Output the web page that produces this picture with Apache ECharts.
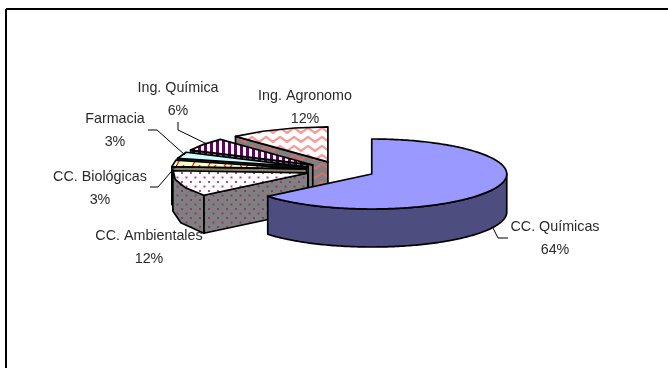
<!DOCTYPE html>
<html>
<head>
<meta charset="utf-8">
<style>html,body{margin:0;padding:0;background:#fff}#chart{width:668px;height:368px}</style>
<script src="https://cdn.jsdelivr.net/npm/echarts@6/dist/echarts.min.js"></script>
</head>
<body>
<div id="chart"></div>
<script>
// Careers and their share of the total, clockwise from twelve o'clock.
const categories = ['CC. Químicas', 'CC. Ambientales', 'CC. Biológicas', 'Farmacia', 'Ing. Química', 'Ing. Agronomo'];
const shares = [64, 12, 3, 3, 6, 12];

// Tilted pie geometry.
const centerX = 340.6, centerY = 170.2, radiusX = 135, radiusY = 35, depth = 38, explode = 0.255;

// Label anchor (centre of first text line) and leader line for each slice.
const labelAnchors = [[555, 227], [149, 236], [100, 177], [115, 119], [178, 88], [305, 96]];
const leaderLines = [
  [[493, 228], [498, 238], [508, 238]],
  null,
  [[150, 187], [158, 187], [177, 165]],
  [[148, 130], [157, 130], [185, 155]],
  [[178, 122], [178, 130], [207, 144]],
  null
];
const lineGap = 23;

function tile(w, h, bg, paint) {
  const c = document.createElement('canvas');
  c.width = w; c.height = h;
  const g = c.getContext('2d');
  g.fillStyle = bg; g.fillRect(0, 0, w, h);
  paint(g);
  return { image: c, repeat: 'repeat' };
}
const wave = (stroke, width) => g => {
  g.strokeStyle = stroke; g.lineWidth = width; g.lineJoin = 'round';
  [2, 11].forEach(y => {
    g.beginPath();
    for (let x = -14; x <= 28; x += 7) {
      const up = Math.round((x + 14) / 7) % 2 === 0;
      g.lineTo(x, y + (up ? 0 : 5));
    }
    g.stroke();
  });
};
const dots = (color) => g => {
  g.fillStyle = color;
  [[1, 1], [5.5, 5.5]].forEach(([x, y]) => g.fillRect(x, y, 2, 2));
};
const stripes = (color) => g => {
  g.fillStyle = color;
  g.fillRect(0, 0, 3, 6);
};
const redWave = g => {
  g.strokeStyle = '#ff3300'; g.lineWidth = 1.5;
  g.beginPath(); g.moveTo(0, 0); g.lineTo(4, 5); g.lineTo(8, 0); g.moveTo(4, 5); g.lineTo(1, 11);
  g.stroke();
};

// Top face and side wall fill per slice.
const fills = [
  { top: '#9999ff', wall: '#4d4d80' },
  { top: tile(9, 9, '#ffffff', dots('#b34d80')), wall: tile(9, 9, '#808080', dots('#8c3d70')) },
  { top: tile(16, 11, '#ffffcc', redWave), wall: '#808066' },
  { top: '#ccffff', wall: '#668080' },
  { top: tile(6, 6, '#ffffff', stripes('#660066')), wall: tile(6, 6, '#808080', stripes('#330033')) },
  { top: tile(14, 18, '#ffffff', wave('#ff9999', 2.2)), wall: tile(14, 18, '#808080', wave('#cc7070', 2.2)) }
];

const total = shares.reduce((a, b) => a + b, 0);
const starts = [];
shares.reduce((acc, v, i) => { starts[i] = acc; return acc + v; }, 0);

// Back-to-front paint order.
const paintOrder = categories.map((_, i) => i).reverse();

const rad = d => d * Math.PI / 180;
const edge = { stroke: '#000', lineWidth: 1.7, lineJoin: 'round' };

function renderSlice(params, api) {
  const i = api.value(0);
  const a0 = api.value(1) / total * 360;
  const a1 = (api.value(1) + api.value(2)) / total * 360;
  const mid = (a0 + a1) / 2;
  const cx = centerX + radiusX * Math.sin(rad(mid)) * explode;
  const cy = centerY - radiusY * Math.cos(rad(mid)) * explode;
  const rim = (a, dy) => [cx + radiusX * Math.sin(rad(a)), cy - radiusY * Math.cos(rad(a)) + dy];
  // Small slices get a faceted rim, the large one a smooth curve.
  const arc = (from, to, dy) => {
    const span = Math.abs(to - from);
    const n = Math.max(1, Math.ceil(span > 90 ? span : span / 20));
    const pts = [];
    for (let k = 0; k <= n; k++) pts.push(rim(from + (to - from) * k / n, dy));
    return pts;
  };
  const base = params.dataIndex * 10;
  const children = [];
  const poly = (points, fill, z) => children.push({
    type: 'polygon', z2: base + z, shape: { points }, style: Object.assign({ fill }, edge)
  });

  if (Math.sin(rad(a0)) < -1e-6) {
    poly([[cx, cy], rim(a0, 0), rim(a0, depth), [cx, cy + depth]], fills[i].wall, 1);
  }
  if (Math.sin(rad(a1)) > 1e-6) {
    poly([[cx, cy], rim(a1, 0), rim(a1, depth), [cx, cy + depth]], fills[i].wall, 1);
  }
  const wallFrom = Math.max(a0, 90), wallTo = Math.min(a1, 270);
  if (wallTo > wallFrom) {
    poly(arc(wallFrom, wallTo, 0).concat(arc(wallTo, wallFrom, depth)), fills[i].wall, 2);
  }
  poly([[cx, cy]].concat(arc(a0, a1, 0)), fills[i].top, 3);

  const [lx, ly] = labelAnchors[i];
  [categories[i], api.value(2) + '%'].forEach((text, row) => children.push({
    type: 'text', z2: 1000,
    style: {
      x: lx, y: ly + row * lineGap, text, fill: '#2a2a2a', align: 'center', verticalAlign: 'middle',
      font: '14.3px "Liberation Sans", Arial, sans-serif'
    }
  }));
  if (leaderLines[i]) {
    children.push({
      type: 'polyline', z2: 999, shape: { points: leaderLines[i] },
      style: { stroke: '#000', lineWidth: 1, fill: null }
    });
  }
  return { type: 'group', children };
}

const chart = echarts.init(document.getElementById('chart'));
chart.setOption({
  animation: false,
  backgroundColor: '#ffffff',
  graphic: [
    { type: 'line', shape: { x1: 6, y1: 9, x2: 668, y2: 9 }, style: { stroke: '#000', lineWidth: 2 } },
    { type: 'line', shape: { x1: 6, y1: 9, x2: 6, y2: 368 }, style: { stroke: '#000', lineWidth: 2 } }
  ],
  series: [{
    type: 'custom',
    coordinateSystem: 'none',
    renderItem: renderSlice,
    encode: { value: [2] },
    data: paintOrder.map(i => [i, starts[i], shares[i]])
  }]
});
</script>
</body>
</html>
